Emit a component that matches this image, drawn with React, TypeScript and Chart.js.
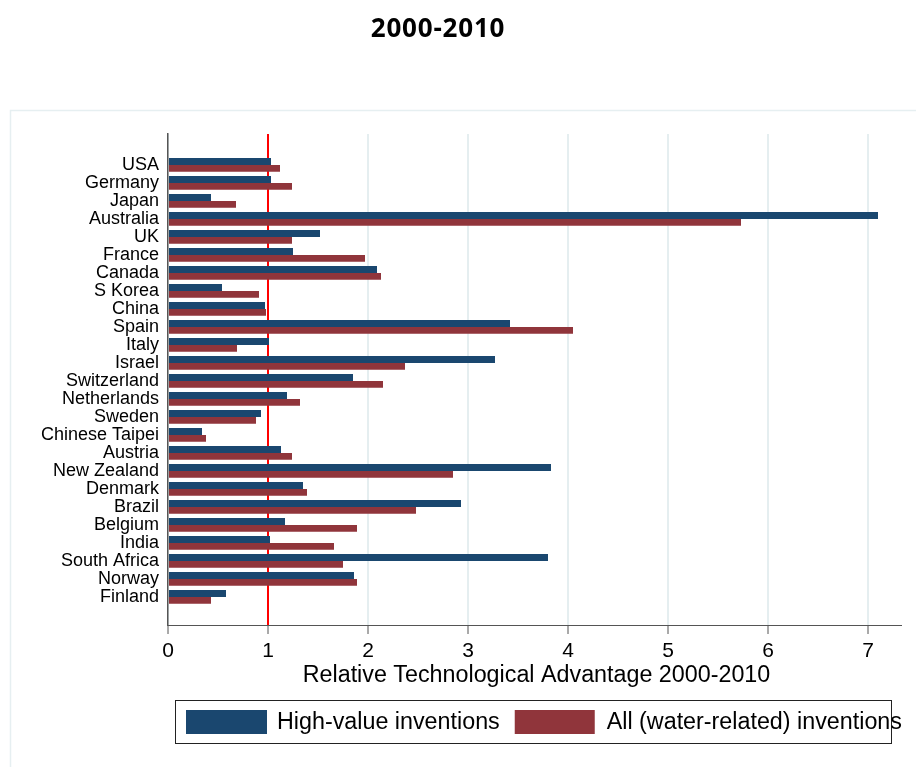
import React, { useEffect, useRef } from "react";
import { Chart, registerables } from "chart.js";

Chart.register(...registerables);

const countries = [
  "USA", "Germany", "Japan", "Australia", "UK", "France", "Canada", "S Korea",
  "China", "Spain", "Italy", "Israel", "Switzerland", "Netherlands", "Sweden",
  "Chinese Taipei", "Austria", "New Zealand", "Denmark", "Brazil", "Belgium",
  "India", "South Africa", "Norway", "Finland",
];
const highValue = [
  1.03, 1.03, 0.43, 7.1, 1.52, 1.25, 2.09, 0.54, 0.97, 3.42, 1.01, 3.27, 1.85,
  1.19, 0.93, 0.34, 1.13, 3.83, 1.35, 2.93, 1.17, 1.02, 3.8, 1.86, 0.58,
];
const allWater = [
  1.12, 1.24, 0.68, 5.73, 1.24, 1.97, 2.13, 0.91, 0.98, 4.05, 0.69, 2.37, 2.15,
  1.32, 0.88, 0.38, 1.24, 2.85, 1.39, 2.48, 1.89, 1.66, 1.75, 1.89, 0.43,
];
const xTicks = [0, 1, 2, 3, 4, 5, 6, 7];
const referenceLine = 1;
const chartTitle = "2000-2010";
const xAxisTitle = "Relative Technological Advantage 2000-2010";
const seriesLabels = ["High-value inventions", "All (water-related) inventions"];
const seriesColors = ["#1a476f", "#90353b"];

const FONT = '"Liberation Sans", Arial, Helvetica, sans-serif';

const decorPlugin = {
  id: "decor",
  beforeDraw(chart: any) {
    const { ctx, width, height } = chart;
    ctx.save();
    ctx.fillStyle = "#ffffff";
    ctx.fillRect(0, 0, width, height);
    ctx.strokeStyle = "#e6eff1";
    ctx.lineWidth = 1.5;
    ctx.strokeRect(10.5, 110.5, width + 20, height + 20);
    ctx.fillStyle = "#000";
    ctx.font = 'bold 26px "Open Sans", sans-serif';
    (ctx as any).letterSpacing = "0.8px";
    ctx.textAlign = "center";
    ctx.textBaseline = "middle";
    ctx.fillText(chartTitle, 438, 30);
    ctx.restore();
  },
  beforeDatasetsDraw(chart: any) {
    const { ctx, chartArea, scales } = chart;
    const px = scales.x.getPixelForValue(referenceLine);
    ctx.save();
    ctx.strokeStyle = "#ff0000";
    ctx.lineWidth = 2;
    ctx.beginPath();
    ctx.moveTo(px, chartArea.top);
    ctx.lineTo(px, chartArea.bottom);
    ctx.stroke();
    ctx.restore();
  },
  afterDraw(chart: any) {
    const { ctx, chartArea } = chart;
    ctx.save();
    ctx.fillStyle = "#000";
    ctx.font = `23.3px ${FONT}`;
    ctx.textAlign = "center";
    ctx.textBaseline = "middle";
    ctx.fillText(xAxisTitle, (chartArea.left + chartArea.right) / 2 + 2, 676);

    // legend
    const fl = 175.5, ft = 700.5, fr = 891.5, fb = 743.5;
    ctx.fillStyle = "#fff";
    ctx.fillRect(fl, ft, fr - fl, fb - ft);
    ctx.strokeStyle = "#222";
    ctx.lineWidth = 1;
    ctx.strokeRect(fl, ft, fr - fl, fb - ft);
    ctx.textAlign = "left";
    let x = 186;
    const sw = [81, 80];
    const gapAfter = [10, 12];
    for (let i = 0; i < seriesLabels.length; i++) {
      ctx.fillStyle = seriesColors[i];
      ctx.fillRect(x, 710, sw[i], 24);
      x += sw[i] + gapAfter[i];
      ctx.fillStyle = "#000";
      ctx.fillText(seriesLabels[i], x, 722.5);
      x += ctx.measureText(seriesLabels[i]).width + 15;
    }
    ctx.restore();
  },
};

export default function App() {
  const canvasRef = useRef<HTMLCanvasElement | null>(null);

  useEffect(() => {
    if (!canvasRef.current) return;
    Chart.defaults.font.family = FONT;
    const chart = new Chart(canvasRef.current, {
      type: "bar",
      data: {
        datasets: [
          {
            label: seriesLabels[0],
            data: highValue.map((v, i) => ({ x: v, y: i })),
            backgroundColor: seriesColors[0],
            borderWidth: 0,
          },
          {
            label: seriesLabels[1],
            data: allWater.map((v, i) => ({ x: v, y: i })),
            backgroundColor: seriesColors[1],
            borderWidth: 0,
          },
        ],
      },
      options: {
        indexAxis: "y",
        animation: false,
        responsive: false,
        maintainAspectRatio: false,
        layout: { padding: { top: 134, right: 15, bottom: 0, left: 0 } },
        datasets: { bar: { categoryPercentage: 0.76, barPercentage: 1 } },
        plugins: {
          legend: { display: false },
          title: { display: false },
          tooltip: { enabled: false },
        },
        scales: {
          x: {
            type: "linear",
            min: 0,
            max: 7.33,
            afterBuildTicks: (s: any) => {
              s.ticks = xTicks.map((v) => ({ value: v }));
            },
            afterFit: (s: any) => {
              s.height = 142;
            },
            ticks: {
              font: { family: FONT, size: 21 },
              color: "#000",
              padding: 5,
              maxRotation: 0,
              callback: (v: any) => String(v),
            },
            grid: {
              color: "#e5eef0",
              lineWidth: 2,
              tickColor: "#555",
              tickLength: 9,
              tickWidth: 1,
            },
            border: { color: "#555", width: 1 },
          },
          y: {
            type: "linear",
            reverse: true,
            offset: false,
            min: -1.72,
            max: 25.56,
            afterBuildTicks: (s: any) => {
              s.ticks = countries.map((_, i) => ({ value: i }));
            },
            afterFit: (s: any) => {
              s.width = 168;
            },
            ticks: {
              autoSkip: false,
              font: { family: FONT, size: 18 },
              color: "#000",
              padding: 9,
              callback: (v: any) => countries[v] ?? "",
            },
            grid: { display: false, drawTicks: false, offset: false },
            border: { display: true, color: "#555", width: 1.5 },
          },
        },
      },
      plugins: [decorPlugin],
    } as any);
    return () => chart.destroy();
  }, []);

  return (
    <div style={{ position: "fixed", left: 0, top: 0, width: 916, height: 767, background: "#fff" }}>
      <canvas ref={canvasRef} width={916} height={767} style={{ display: "block" }} />
    </div>
  );
}
